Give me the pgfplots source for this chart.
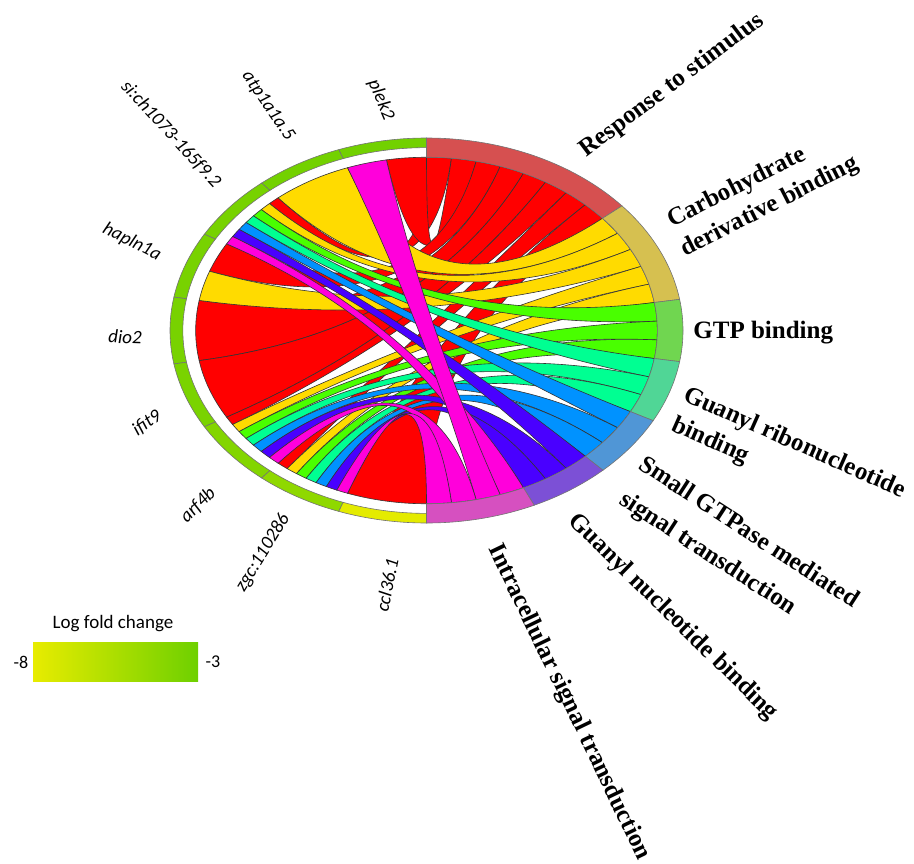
\documentclass[border=0pt]{standalone}
\usepackage{pgfplots}
\pgfplotsset{compat=1.18}
\usepackage{pgfplotstable}
\usepackage{fontspec}
\setmainfont{Liberation Serif}
\newfontfamily\genefont{Carlito}

% ribbon colours, one per GO term (rainbow palette)
\definecolor{rib1}{HTML}{FF0000}
\definecolor{rib2}{HTML}{FFDB00}
\definecolor{rib3}{HTML}{49FF00}
\definecolor{rib4}{HTML}{00FF92}
\definecolor{rib5}{HTML}{0092FF}
\definecolor{rib6}{HTML}{4900FF}
\definecolor{rib7}{HTML}{FF00DB}
% muted colours of the term ring
\definecolor{seg1}{HTML}{D65050}
\definecolor{seg2}{HTML}{D6C050}
\definecolor{seg3}{HTML}{70D650}
\definecolor{seg4}{HTML}{50D696}
\definecolor{seg5}{HTML}{5096D6}
\definecolor{seg6}{HTML}{7C50D6}
\definecolor{seg7}{HTML}{D650C0}
% log fold change scale
\definecolor{lfclo}{RGB}{232,236,0}
\definecolor{lfchi}{RGB}{110,208,0}

% one axis unit in canvas length (circle drawn as an ellipse)
\def\Xu{128.25pt}
\def\Yu{96.25pt}
\def\rc{0.9}

\newcommand\termfont{\fontsize{12.5}{15}\selectfont\bfseries}
\newcommand\genelabelfont{\genefont\itshape\fontsize{9.5}{11}\selectfont}

% ribbon: gene arc #1..#2, term arc #3 (high) .. #4 (low), colour #5
\newcommand{\ribbon}[5]{%
  \filldraw[fill=#5, draw=black!80, line width=0.3pt]
    (axis cs:{\rc*cos(#1)},{\rc*sin(#1)})
    arc[start angle=#1, end angle=#2, x radius=\rc*\Xu, y radius=\rc*\Yu]
    .. controls (axis cs:{\rc/3*cos(#2)},{\rc/3*sin(#2)})
            and (axis cs:{\rc/3*cos(#4)},{\rc/3*sin(#4)})
    .. (axis cs:{\rc*cos(#4)},{\rc*sin(#4)})
    arc[start angle=#4, end angle=#3, x radius=\rc*\Xu, y radius=\rc*\Yu]
    .. controls (axis cs:{\rc/3*cos(#3)},{\rc/3*sin(#3)})
            and (axis cs:{\rc/3*cos(#1)},{\rc/3*sin(#1)})
    .. (axis cs:{\rc*cos(#1)},{\rc*sin(#1)}) -- cycle;}

% ring segment from angle #1 to #2, radii #3 .. #4, colour #5
\newcommand{\ringseg}[5]{%
  \filldraw[fill=#5, draw=black!55, line width=0.3pt]
    (axis cs:{#3*cos(#1)},{#3*sin(#1)})
    arc[start angle=#1, end angle=#2, x radius=#3*\Xu, y radius=#3*\Yu]
    -- (axis cs:{#4*cos(#2)},{#4*sin(#2)})
    arc[start angle=#2, end angle=#1, x radius=#4*\Xu, y radius=#4*\Yu]
    -- cycle;}

% genes: segment angles, log fold change, label position and rotation
\pgfplotstableread{
a   b   lfc   u        v        rot    name
90  110 -3.1  -0.1774  1.1974   -67    plek2
110 130 -3.2  -0.6179  1.1662   -55.6  atp1a1a.5
130 150 -3.3  -0.9961  1.0208   -47.3  si:ch1073-165f9.2
150 170 -3.4  -1.1481  0.4597   -27    hapln1a
170 190 -3.4  -1.1754  -0.0338  -2     dio2
190 210 -3.5  -1.0897  -0.4805  35     ifit9
210 230 -3.8  -0.8909  -0.9065  45     arf4b
230 250 -4.3  -0.6374  -1.1558  58.7   zgc:110286
250 270 -7.8  -0.1540  -1.3221  78.7   ccl36.1
}\genes

% GO terms: segment angles
\pgfplotstableread{
a        b        term
40.345   90       1
9.310    40.345   2
-9.310   9.310    3
-27.931  -9.310   4
-46.552  -27.931  5
-65.172  -46.552  6
-90      -65.172  7
}\terms

% gene-term links: gene arc (ga,gb), term arc (ta high, tb low), term
\pgfplotstableread{
ga       gb       ta       tb       term
130      132.857  90       83.793   1
90       100      83.793   77.586   1
150      160      77.586   71.379   1
170      190      71.379   65.172   1
190      210      65.172   58.966   1
210      212.857  58.966   52.759   1
230      232.857  52.759   46.552   1
250      270      46.552   40.345   1
110      130      40.345   34.138   2
132.857  135.714  34.138   27.931   2
160      170      27.931   21.724   2
212.857  215.714  21.724   15.517   2
232.857  235.714  15.517   9.310    2
135.714  138.571  9.310    3.103    3
215.714  218.571  3.103    -3.103   3
235.714  238.571  -3.103   -9.310   3
138.571  141.429  -9.310   -15.517  4
218.571  221.429  -15.517  -21.724  4
238.571  241.429  -21.724  -27.931  4
141.429  144.286  -27.931  -34.138  5
221.429  224.286  -34.138  -40.345  5
241.429  244.286  -40.345  -46.552  5
144.286  147.143  -46.552  -52.759  6
224.286  227.143  -52.759  -58.966  6
244.286  247.143  -58.966  -65.172  6
147.143  150      -65.172  -71.379  7
100      110      -71.379  -77.586  7
227.143  230      -77.586  -83.793  7
247.143  250      -83.793  -90      7
}\links

\begin{document}
\begin{tikzpicture}
\begin{axis}[
  at={(0,0)}, anchor=south west,
  width=457pt, height=431.5pt, scale only axis,
  xmin=-1.66277, xmax=1.90058, ymin=-2.76623, ymax=1.71688,
  hide axis, clip=false]

% ribbons
\pgfplotstablegetrowsof{\links}
\pgfmathtruncatemacro\nlinks{\pgfplotsretval-1}
\pgfplotsforeachungrouped \k in {0,...,\nlinks}{%
  \pgfplotstablegetelem{\k}{ga}\of\links\let\myGa\pgfplotsretval
  \pgfplotstablegetelem{\k}{gb}\of\links\let\myGb\pgfplotsretval
  \pgfplotstablegetelem{\k}{ta}\of\links\let\myTa\pgfplotsretval
  \pgfplotstablegetelem{\k}{tb}\of\links\let\myTb\pgfplotsretval
  \pgfplotstablegetelem{\k}{term}\of\links\let\myTm\pgfplotsretval
  \edef\doit{\noexpand\ribbon{\myGa}{\myGb}{\myTa}{\myTb}{rib\myTm}}\doit
}

% term ring
\pgfplotstablegetrowsof{\terms}
\pgfmathtruncatemacro\nterms{\pgfplotsretval-1}
\pgfplotsforeachungrouped \k in {0,...,\nterms}{%
  \pgfplotstablegetelem{\k}{a}\of\terms\let\myA\pgfplotsretval
  \pgfplotstablegetelem{\k}{b}\of\terms\let\myB\pgfplotsretval
  \pgfplotstablegetelem{\k}{term}\of\terms\let\myTm\pgfplotsretval
  \edef\doit{\noexpand\ringseg{\myA}{\myB}{0.9}{1}{seg\myTm}}\doit
}

% gene ring, coloured by log fold change, with gene names
\pgfplotstablegetrowsof{\genes}
\pgfmathtruncatemacro\ngenes{\pgfplotsretval-1}
\pgfplotsforeachungrouped \k in {0,...,\ngenes}{%
  \pgfplotstablegetelem{\k}{a}\of\genes\let\myA\pgfplotsretval
  \pgfplotstablegetelem{\k}{b}\of\genes\let\myB\pgfplotsretval
  \pgfplotstablegetelem{\k}{lfc}\of\genes\let\myL\pgfplotsretval
  \pgfplotstablegetelem{\k}{u}\of\genes\let\myU\pgfplotsretval
  \pgfplotstablegetelem{\k}{v}\of\genes\let\myV\pgfplotsretval
  \pgfplotstablegetelem{\k}{rot}\of\genes\let\myR\pgfplotsretval
  \pgfplotstablegetelem{\k}{name}\of\genes\let\myN\pgfplotsretval
  \pgfmathtruncatemacro\pct{(\myL+8)*20}
  \edef\doit{\noexpand\ringseg{\myA}{\myB}{0.95}{1}{lfchi!\pct!lfclo}%
    \noexpand\node[rotate=\myR, inner sep=0pt, font=\noexpand\genelabelfont]
      at (axis cs:\myU,\myV) {\myN};}\doit
}

% GO term names
\node[rotate=37, anchor=base west, inner sep=0pt, font=\termfont]
  at (axis cs:0.6218,0.8961) {Response to stimulus};
\node[rotate=27, anchor=base west, inner sep=0pt, font=\termfont]
  at (axis cs:0.9571,0.5325) {Carbohydrate};
\node[rotate=27, anchor=base west, inner sep=0pt, font=\termfont]
  at (axis cs:1.0078,0.3818) {derivative binding};
\node[rotate=0, anchor=base west, inner sep=0pt, font=\termfont]
  at (axis cs:1.0390,-0.0390) {GTP binding};
\node[rotate=-24, anchor=base west, inner sep=0pt, font=\termfont]
  at (axis cs:0.9961,-0.3610) {Guanyl ribonucleotide};
\node[rotate=-24, anchor=base west, inner sep=0pt, font=\termfont]
  at (axis cs:0.9493,-0.5169) {binding};
\node[rotate=-33, anchor=base west, inner sep=0pt, font=\termfont]
  at (axis cs:0.8207,-0.7143) {Small GTPase mediated};
\node[rotate=-33, anchor=base west, inner sep=0pt, font=\termfont]
  at (axis cs:0.7466,-0.8961) {signal transduction};
\node[rotate=-44.4, anchor=base west, inner sep=0pt, font=\termfont]
  at (axis cs:0.5478,-0.9948) {Guanyl nucleotide binding};
\node[rotate=-64.3, anchor=base west, inner sep=0pt, font=\termfont]
  at (axis cs:0.2398,-1.1299) {Intracellular signal transduction};

% colour scale
\shade[left color=lfclo, right color=lfchi]
  (axis cs:-1.5341,-1.8208) rectangle (axis cs:-0.8908,-1.6182);
\node[font=\genefont\fontsize{9.5}{11}\selectfont] at (axis cs:-1.2222,-1.5247) {Log fold change};
\node[font=\genefont\fontsize{9}{11}\selectfont] at (axis cs:-1.5809,-1.7221) {-8};
\node[font=\genefont\fontsize{9}{11}\selectfont] at (axis cs:-0.8324,-1.7221) {-3};
\end{axis}
\pgfresetboundingbox
\path[use as bounding box] (0,0) rectangle (457pt,431.5pt);
\end{tikzpicture}
\end{document}
